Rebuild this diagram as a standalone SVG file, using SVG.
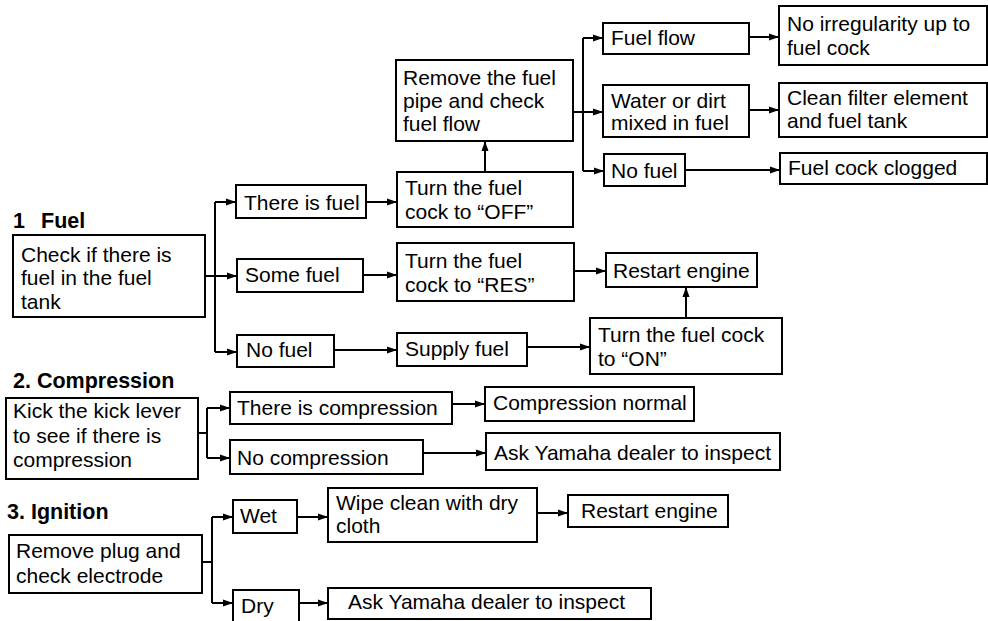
<svg xmlns="http://www.w3.org/2000/svg" width="988" height="621" viewBox="0 0 988 621">
<defs>
<marker id="ah" viewBox="0 0 10 8" refX="10" refY="4" markerWidth="10" markerHeight="8" markerUnits="userSpaceOnUse" orient="auto">
<path d="M0,0.5 L10,4 L0,7.5 Z" fill="#000"/>
</marker>
<style>
rect{fill:#fff;stroke:#000;stroke-width:2}
text{font-family:"Liberation Sans",Arial,sans-serif;font-size:21px;fill:#000}
.h{font-weight:bold;font-size:21.5px}
#connectors path,#connectors line{fill:none;stroke:#000;stroke-width:2}
.a{marker-end:url(#ah)}
</style>
</defs>
<rect x="0" y="0" width="988" height="621" style="fill:#fff;stroke:none"/>

<g id="headings">
<text class="h" x="13" y="228">1<tspan x="41">Fuel</tspan></text>
<text class="h" x="13" y="388">2. Compression</text>
<text class="h" x="7" y="519">3. Ignition</text>
</g>

<g id="connectors">
<path d="M205,276 H215 M215,202 V352"/>
<line class="a" x1="215" y1="202" x2="236" y2="202"/>
<line class="a" x1="215" y1="276" x2="237" y2="276"/>
<line class="a" x1="215" y1="352" x2="237" y2="352"/>
<line class="a" x1="366" y1="202" x2="397" y2="202"/>
<line class="a" x1="485" y1="172" x2="485" y2="141"/>
<path d="M573,112 H583 M583,38 V171"/>
<line class="a" x1="583" y1="38" x2="603" y2="38"/>
<line class="a" x1="583" y1="112" x2="603" y2="112"/>
<line class="a" x1="583" y1="171" x2="604" y2="171"/>
<line class="a" x1="749" y1="37" x2="779" y2="37"/>
<line class="a" x1="749" y1="110" x2="779" y2="110"/>
<line class="a" x1="685" y1="170" x2="780" y2="170"/>
<line class="a" x1="363" y1="275" x2="397" y2="275"/>
<line class="a" x1="574" y1="271" x2="606" y2="271"/>
<line class="a" x1="334" y1="350" x2="397" y2="350"/>
<line class="a" x1="527" y1="347" x2="590" y2="347"/>
<line class="a" x1="686" y1="318" x2="686" y2="287"/>
<path d="M198,433 H207 M207,408 V458"/>
<line class="a" x1="207" y1="408" x2="230" y2="408"/>
<line class="a" x1="207" y1="458" x2="230" y2="458"/>
<line class="a" x1="452" y1="404" x2="485" y2="404"/>
<line class="a" x1="423" y1="453" x2="486" y2="453"/>
<path d="M202,562 H212 M212,517 V603"/>
<line class="a" x1="212" y1="517" x2="233" y2="517"/>
<line class="a" x1="212" y1="603" x2="233" y2="603"/>
<line class="a" x1="297" y1="517" x2="328" y2="517"/>
<line class="a" x1="537" y1="513" x2="568" y2="513"/>
<line class="a" x1="299" y1="603" x2="328" y2="603"/>
</g>

<g id="fuel_check"><rect x="13" y="235" width="192" height="82"/>
<text x="21" y="262">Check if there is</text><text x="21" y="285">fuel in the fuel</text><text x="21" y="309">tank</text></g>
<g id="there_is_fuel"><rect x="236" y="185" width="130" height="33"/><text x="244" y="210">There is fuel</text></g>
<g id="some_fuel"><rect x="237" y="259" width="126" height="33"/><text x="245" y="282">Some fuel</text></g>
<g id="no_fuel_a"><rect x="237" y="335" width="97" height="32"/><text x="246" y="357">No fuel</text></g>
<g id="turn_off"><rect x="397" y="172" width="176" height="55"/>
<text x="405" y="195">Turn the fuel</text><text x="405" y="219">cock to “OFF”</text></g>
<g id="remove_pipe"><rect x="396" y="60" width="177" height="81"/>
<text x="403" y="85">Remove the fuel</text><text x="403" y="108">pipe and check</text><text x="403" y="131">fuel flow</text></g>
<g id="fuel_flow"><rect x="603" y="23" width="146" height="31"/><text x="611" y="45">Fuel flow</text></g>
<g id="water_dirt"><rect x="603" y="85" width="146" height="52"/>
<text x="611" y="108">Water or dirt</text><text x="611" y="130">mixed in fuel</text></g>
<g id="no_fuel_b"><rect x="604" y="154" width="81" height="32"/><text x="611" y="178">No fuel</text></g>
<g id="no_irregularity"><rect x="779" y="6" width="208" height="59"/>
<text x="787" y="31">No irregularity up to</text><text x="787" y="55">fuel cock</text></g>
<g id="clean_filter"><rect x="779" y="83" width="208" height="54"/>
<text x="787" y="105">Clean filter element</text><text x="787" y="128">and fuel tank</text></g>
<g id="cock_clogged"><rect x="780" y="153" width="207" height="31"/><text x="788" y="175">Fuel cock clogged</text></g>
<g id="turn_res"><rect x="397" y="243" width="177" height="58"/>
<text x="405" y="268">Turn the fuel</text><text x="405" y="292">cock to “RES”</text></g>
<g id="restart_1"><rect x="606" y="253" width="151" height="34"/><text x="613" y="278">Restart engine</text></g>
<g id="supply_fuel"><rect x="397" y="333" width="130" height="33"/><text x="405" y="356">Supply fuel</text></g>
<g id="turn_on"><rect x="590" y="318" width="192" height="56"/>
<text x="598" y="342">Turn the fuel cock</text><text x="598" y="366">to “ON”</text></g>

<g id="kick"><rect x="6" y="398" width="192" height="81"/>
<text x="13" y="418">Kick the kick lever</text><text x="13" y="443">to see if there is</text><text x="13" y="467">compression</text></g>
<g id="there_comp"><rect x="230" y="392" width="222" height="32"/><text x="237" y="415">There is compression</text></g>
<g id="no_comp"><rect x="230" y="440" width="193" height="34"/><text x="237" y="465">No compression</text></g>
<g id="comp_normal"><rect x="485" y="387" width="209" height="34"/><text x="493" y="410">Compression normal</text></g>
<g id="ask_1"><rect x="486" y="433" width="294" height="37"/><text x="494" y="460">Ask Yamaha dealer to inspect</text></g>

<g id="remove_plug"><rect x="9" y="535" width="193" height="58"/>
<text x="16" y="558">Remove plug and</text><text x="16" y="583">check electrode</text></g>
<g id="wet"><rect x="233" y="500" width="64" height="33"/><text x="240" y="523">Wet</text></g>
<g id="dry"><rect x="233" y="590" width="66" height="40"/><text x="241" y="613">Dry</text></g>
<g id="wipe"><rect x="328" y="488" width="209" height="54"/>
<text x="336" y="510">Wipe clean with dry</text><text x="336" y="533">cloth</text></g>
<g id="restart_2"><rect x="568" y="495" width="160" height="32"/><text x="581" y="518">Restart engine</text></g>
<g id="ask_2"><rect x="328" y="588" width="323" height="31"/><text x="348" y="609">Ask Yamaha dealer to inspect</text></g>
</svg>
